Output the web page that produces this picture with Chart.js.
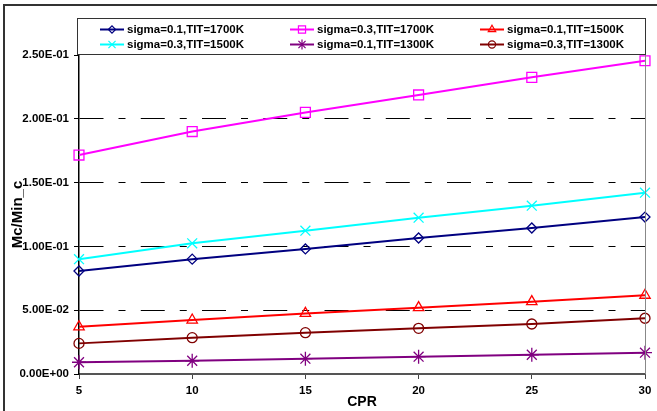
<!DOCTYPE html>
<html>
<head>
<meta charset="utf-8">
<script src="https://cdn.jsdelivr.net/npm/chart.js@4/dist/chart.umd.min.js"></script>
<style>
  html, body { margin: 0; padding: 0; background: #fff; }
  #wrap { width: 657px; height: 411px; position: relative; }
</style>
</head>
<body>
<div id="wrap"><canvas id="c" width="657" height="411"></canvas></div>
<script>
// Compressor pressure ratio values on the x axis
const cpr = [5, 10, 15, 20, 25, 30];

// Mc/Min_c for each sigma / turbine inlet temperature case
const s01_1700 = [0.0807, 0.0900, 0.0980, 0.1066, 0.1144, 0.1230];
const s03_1700 = [0.1716, 0.1900, 0.2050, 0.2187, 0.2325, 0.2455];
const s01_1500 = [0.0370, 0.0423, 0.0475, 0.0520, 0.0567, 0.0617];
const s03_1500 = [0.0900, 0.1024, 0.1123, 0.1225, 0.1319, 0.1421];
const s01_1300 = [0.0092, 0.0104, 0.0120, 0.0136, 0.0151, 0.0167];
const s03_1300 = [0.0240, 0.0285, 0.0324, 0.0358, 0.0392, 0.0437];

const seriesLabels = [
  'sigma=0.1,TIT=1700K', 'sigma=0.3,TIT=1700K', 'sigma=0.1,TIT=1500K',
  'sigma=0.3,TIT=1500K', 'sigma=0.1,TIT=1300K', 'sigma=0.3,TIT=1300K'
];

const xTicks = [5, 10, 15, 20, 25, 30];
const yTicks = [0, 0.05, 0.10, 0.15, 0.20, 0.25];

const FONT = "'Liberation Sans', Arial, sans-serif";

function sci(v) {
  if (Math.abs(v) < 1e-12) return '0.00E+00';
  const e = Math.floor(Math.log10(Math.abs(v)) + 1e-9);
  const m = v / Math.pow(10, e);
  return m.toFixed(2) + 'E' + (e < 0 ? '-' : '+') + String(Math.abs(e)).padStart(2, '0');
}

function series(label, values, color, style, radius) {
  return {
    label: label,
    data: values.map((v, i) => ({ x: cpr[i], y: v })),
    borderColor: color,
    backgroundColor: 'rgba(0,0,0,0)',
    pointBorderColor: color,
    pointBackgroundColor: 'rgba(0,0,0,0)',
    pointStyle: style,
    pointRadius: radius,
    pointBorderWidth: 1.3,
    borderWidth: 2,
    tension: 0,
    clip: false
  };
}

const datasets = [
  series(seriesLabels[0], s01_1700, '#000080', 'rectRot', 5),
  series(seriesLabels[1], s03_1700, '#FF00FF', 'rect', 7),
  series(seriesLabels[2], s01_1500, '#FF0000', 'triangle', 6),
  series(seriesLabels[3], s03_1500, '#00FFFF', 'crossRot', 7),
  series(seriesLabels[4], s01_1300, '#800080', 'star', 7),
  series(seriesLabels[5], s03_1300, '#800000', 'circle', 5)
];

// Outer frame, right plot edge and the boxed three-column legend
const decor = {
  id: 'decor',
  beforeDraw(chart) {
    const ctx = chart.ctx;
    ctx.save();
    ctx.strokeStyle = '#333';
    ctx.lineWidth = 2;
    ctx.beginPath();
    ctx.moveTo(4, 411);
    ctx.lineTo(4, 5);
    ctx.lineTo(657, 5);
    ctx.stroke();
    ctx.restore();
  },
  afterDatasetsDraw(chart) {
    const ctx = chart.ctx;
    const a = chart.chartArea;
    ctx.save();
    ctx.strokeStyle = '#888';
    ctx.lineWidth = 1;
    ctx.beginPath();
    ctx.moveTo(a.right + 0.5, a.top);
    ctx.lineTo(a.right + 0.5, a.bottom);
    ctx.stroke();

    // legend box
    const bx = 77.5, by = 18.5, bw = 568, bh = 36;
    ctx.fillStyle = '#fff';
    ctx.fillRect(bx, by, bw, bh);
    ctx.strokeStyle = '#333';
    ctx.lineWidth = 1;
    ctx.strokeRect(bx, by, bw, bh);

    const colX = [100, 290, 480];
    const rowY = [29.5, 44.5];
    ctx.font = 'bold 11.5px ' + FONT;
    ctx.textBaseline = 'middle';
    ctx.textAlign = 'left';
    chart.data.datasets.forEach((ds, i) => {
      const x = colX[i % 3], y = rowY[Math.floor(i / 3)];
      ctx.strokeStyle = ds.borderColor;
      ctx.lineWidth = 2;
      ctx.beginPath();
      ctx.moveTo(x, y);
      ctx.lineTo(x + 24, y);
      ctx.stroke();
      ctx.fillStyle = 'rgba(0,0,0,0)';
      ctx.lineWidth = 1.2;
      Chart.helpers.drawPoint(ctx, {
        pointStyle: ds.pointStyle,
        radius: ds.pointRadius * 0.72,
        rotation: 0,
        borderWidth: 1.2
      }, x + 12, y);
      ctx.fillStyle = '#000';
      ctx.fillText(ds.label, x + 27, y + 0.5);
    });
    ctx.restore();
  }
};

new Chart(document.getElementById('c'), {
  type: 'line',
  data: { datasets: datasets },
  options: {
    responsive: false,
    animation: false,
    devicePixelRatio: 1,
    layout: { padding: { left: 0, top: 55, right: 12, bottom: 0 } },
    plugins: {
      legend: { display: false },
      tooltip: { enabled: false }
    },
    scales: {
      x: {
        type: 'linear',
        min: 5,
        max: 30,
        afterFit(s) { s.height = 37; },
        afterBuildTicks(s) { s.ticks = xTicks.map(v => ({ value: v })); },
        ticks: {
          color: '#000',
          font: { family: FONT, size: 11.5, weight: 'bold' },
          padding: 5,
          maxRotation: 0
        },
        grid: {
          drawOnChartArea: false,
          drawTicks: true,
          tickLength: 5,
          tickColor: '#444',
          tickWidth: 1
        },
        border: { display: true, color: '#555', width: 2 },
        title: {
          display: true,
          text: 'CPR',
          color: '#000',
          font: { family: FONT, size: 14, weight: 'bold' },
          padding: { top: 0, bottom: 0 }
        }
      },
      y: {
        type: 'linear',
        min: 0,
        max: 0.25,
        afterFit(s) { s.width = 79; },
        afterBuildTicks(s) { s.ticks = yTicks.map(v => ({ value: v })); },
        ticks: {
          color: '#000',
          font: { family: FONT, size: 11.5, weight: 'bold' },
          padding: 5,
          callback: (v) => sci(v)
        },
        grid: {
          color: (c) => (c.tick && c.tick.value >= 0.25 - 1e-9) ? 'rgba(0,0,0,0)' : '#000',
          lineWidth: 1,
          drawTicks: true,
          tickLength: 5,
          tickColor: '#000',
          tickWidth: 1
        },
        border: { display: true, color: '#000', width: 1.5, dash: [24, 15, 7, 15.25], dashOffset: 0 },
        title: {
          display: true,
          text: 'Mc/Min_c',
          color: '#000',
          font: { family: FONT, size: 15, weight: 'bold' },
          padding: { top: 9, bottom: 0 }
        }
      }
    }
  },
  plugins: [decor]
});
</script>
</body>
</html>
